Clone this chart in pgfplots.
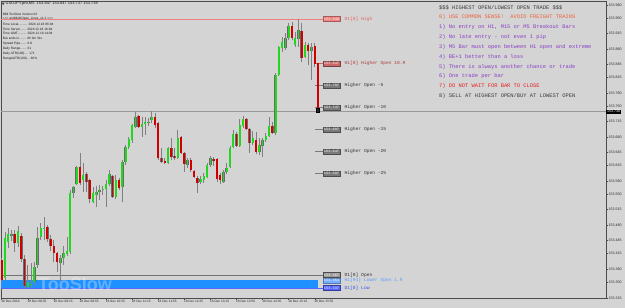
\documentclass[border=0pt]{standalone}
\usepackage{pgfplots}
\pgfplotsset{compat=1.18}
\usepackage{pgfplotstable}
\usepackage{fontspec}
\setmainfont{Liberation Sans}
\newfontfamily\mono{Liberation Mono}
\newcommand\fs[1]{\fontsize{#1}{#1}\selectfont}
\definecolor{bg}{HTML}{D4D4D4}
\definecolor{wick}{HTML}{808080}
\definecolor{edge}{HTML}{6A6A6A}
\definecolor{bullc}{HTML}{22D622}
\definecolor{bearc}{HTML}{D00000}
\definecolor{dhigh}{HTML}{F08080}
\definecolor{dhighT}{HTML}{E86060}
\definecolor{hopen}{HTML}{C86A6A}
\definecolor{hopenT}{HTML}{B03A3A}
\definecolor{lvgray}{HTML}{7A7A7A}
\definecolor{lvgrayT}{HTML}{303030}
\definecolor{dopen}{HTML}{9A9A9A}
\definecolor{lopen}{HTML}{78AEFF}
\definecolor{lopenT}{HTML}{5A9CFF}
\definecolor{dlow}{HTML}{5566FF}
\definecolor{dlowT}{HTML}{3A50F0}
\definecolor{rectblue}{HTML}{1E90FF}
\definecolor{rule0}{HTML}{F0603C}
\definecolor{rulep}{HTML}{8A3CC8}
\definecolor{rule7}{HTML}{E81E1E}
\definecolor{ruled}{HTML}{3A3A3A}

% bullish candles: bar index, open, high, low, close
\pgfplotstableread{
i o h l c
1 153.360 153.464 153.355 153.451
2 153.442 153.473 153.428 153.460
3 153.456 153.469 153.444 153.459
5 153.439 153.478 153.430 153.467
8 153.339 153.389 153.337 153.351
9 153.344 153.394 153.337 153.346
10 153.351 153.396 153.344 153.385
11 153.389 153.476 153.383 153.451
12 153.453 153.485 153.446 153.473
13 153.471 153.498 153.446 153.473
18 153.394 153.412 153.351 153.405
19 153.405 153.433 153.389 153.417
20 153.414 153.453 153.410 153.421
21 153.419 153.560 153.414 153.553
22 153.553 153.569 153.542 153.567
23 153.573 153.614 153.571 153.612
25 153.582 153.621 153.555 153.594
28 153.532 153.567 153.530 153.553
29 153.548 153.569 153.521 153.555
30 153.556 153.571 153.537 153.559
31 153.559 153.569 153.548 153.561
32 153.562 153.582 153.521 153.573
33 153.573 153.605 153.569 153.596
35 153.544 153.594 153.539 153.582
37 153.567 153.628 153.532 153.623
38 153.623 153.662 153.616 153.657
39 153.657 153.680 153.653 153.675
40 153.673 153.710 153.666 153.707
41 153.703 153.737 153.700 153.725
43 153.703 153.725 153.680 153.710
44 153.710 153.725 153.685 153.714
45 153.713 153.723 153.705 153.715
46 153.719 153.739 153.712 153.725
51 153.621 153.657 153.619 153.655
54 153.632 153.696 153.630 153.678
57 153.616 153.632 153.610 153.628
61 153.578 153.592 153.573 153.585
62 153.582 153.598 153.576 153.592
63 153.589 153.621 153.587 153.616
64 153.616 153.637 153.612 153.632
68 153.578 153.605 153.576 153.601
69 153.601 153.621 153.596 153.610
70 153.612 153.660 153.610 153.655
71 153.657 153.696 153.655 153.687
73 153.660 153.721 153.657 153.707
74 153.705 153.728 153.700 153.721
77 153.666 153.694 153.662 153.678
79 153.646 153.678 153.639 153.662
80 153.660 153.678 153.635 153.673
81 153.673 153.689 153.669 153.682
82 153.682 153.725 153.680 153.705
84 153.689 153.825 153.685 153.821
85 153.821 153.887 153.818 153.884
86 153.882 153.907 153.873 153.896
87 153.882 153.916 153.878 153.905
88 153.905 153.939 153.900 153.932
90 153.889 153.918 153.884 153.905
91 153.902 153.948 153.884 153.923
93 153.862 153.896 153.859 153.889
95 153.875 153.893 153.809 153.884
}\bull

% bearish candles
\pgfplotstableread{
i o h l c
0 153.401 153.405 153.351 153.355
4 153.460 153.469 153.419 153.439
6 153.455 153.462 153.396 153.403
7 153.403 153.412 153.337 153.342
14 153.476 153.480 153.442 153.448
15 153.448 153.458 153.421 153.433
16 153.433 153.446 153.396 153.417
17 153.417 153.419 153.374 153.396
24 153.612 153.644 153.571 153.576
26 153.596 153.601 153.555 153.578
27 153.582 153.585 153.530 153.539
34 153.592 153.594 153.542 153.544
36 153.582 153.587 153.560 153.564
42 153.728 153.730 153.700 153.703
47 153.725 153.735 153.700 153.707
48 153.712 153.714 153.628 153.632
49 153.632 153.655 153.621 153.623
50 153.626 153.632 153.619 153.621
52 153.655 153.678 153.628 153.635
53 153.637 153.655 153.628 153.632
55 153.680 153.682 153.641 153.644
56 153.644 153.646 153.601 153.619
58 153.628 153.632 153.601 153.605
59 153.603 153.605 153.587 153.589
60 153.587 153.592 153.553 153.576
65 153.630 153.635 153.614 153.626
66 153.630 153.632 153.578 153.585
67 153.594 153.598 153.573 153.582
72 153.687 153.691 153.657 153.660
75 153.721 153.723 153.696 153.698
76 153.698 153.700 153.644 153.666
78 153.673 153.691 153.641 153.646
83 153.705 153.714 153.687 153.689
89 153.932 153.941 153.900 153.905
92 153.921 153.939 153.850 153.859
94 153.889 153.893 153.843 153.875
96 153.887 153.893 153.839 153.846
97 153.847 153.847 153.737 153.738
}\bear

\newcommand\lvl[5]{%
  \node[anchor=west, fill=#2, draw=#3, line width=0.4bp, text=white,
        font=\mono\fs{3.6bp}, inner sep=0pt, minimum width=17.5bp,
        minimum height=5bp] (b) at (axis cs:98.4,#1) {#1};
  \node[anchor=west, text=#4, font=\mono\fs{4.6bp}, inner sep=0pt]
        at ([xshift=4bp]b.east) {#5};}

\pgfplotsset{
  candle/.style 2 args={draw=none, no markers, forget plot,
    error bars/.cd, y dir=plus, y explicit, error mark=none,
    error bar style={draw=#1, line width=#2, solid}},
}

\begin{document}
\begin{tikzpicture}
\fill[bg] (-1bp,-10bp) rectangle (624bp,298bp);
\begin{axis}[
  at={(0,0)}, anchor=south west,
  scale only axis, width=605bp, height=297bp,
  xmin=-0.215, xmax=185.31, ymin=153.3145, ymax=153.9887,
  axis line style={draw=black!70, line width=0.6bp},
  xtick={0,8,...,96},
  xticklabels={18 Dec 2024,18 Dec 08:35,18 Dec 09:15,18 Dec 09:55,18 Dec 10:35,18 Dec 11:15,18 Dec 11:55,18 Dec 12:35,18 Dec 13:15,18 Dec 13:55,18 Dec 14:35,18 Dec 15:15,18 Dec 15:55},
  xtick pos=bottom, ytick pos=right, yticklabel pos=right,
  tick align=outside, major tick length=2bp,
  tick style={draw=black!70, line width=0.5bp},
  xticklabel style={anchor=north west, font=\fs{3.2bp}, inner sep=0.5bp, xshift=-1bp, text=black!85},
  ytick={153.980,153.950,153.915,153.880,153.845,153.815,153.780,153.750,153.715,153.680,153.645,153.615,153.580,153.550,153.515,153.480,153.445,153.415,153.380,153.350,153.315},
  yticklabel style={anchor=west, font=\fs{3.6bp}, inner sep=0.5bp, text=black!85,
    /pgf/number format/.cd, fixed, fixed zerofill, precision=3, assume math mode=true},
  scaled y ticks=false,
]
% D1 lower band rectangle
\addplot[fill=rectblue, draw=none, no markers] coordinates {(-0.2,153.337) (97,153.337) (97,153.356) (-0.2,153.356)} -- cycle;
% full-width level lines
\addplot[draw=dhigh, line width=0.8bp, no markers] coordinates {(-0.2,153.948) (98.4,153.948)};
\addplot[draw=black!55, line width=0.6bp, no markers] coordinates {(-0.2,153.367) (98.4,153.367)};
\addplot[draw=dlow, line width=0.8bp, no markers] coordinates {(-0.2,153.337) (98.4,153.337)};
% bid line
\addplot[draw=black!40, line width=0.5bp, no markers] coordinates {(-0.2,153.738) (185.3,153.738)};
% short level lines
\addplot[draw=hopen, line width=0.6bp, no markers] coordinates {(96.1,153.847) (98.4,153.847)};
\addplot[draw=lvgray, line width=0.6bp, no markers] coordinates {(96.1,153.797) (98.4,153.797)};
\addplot[draw=lvgray, line width=0.6bp, no markers] coordinates {(96.1,153.747) (98.4,153.747)};
\addplot[draw=lvgray, line width=0.6bp, no markers] coordinates {(96.1,153.697) (98.4,153.697)};
\addplot[draw=lvgray, line width=0.6bp, no markers] coordinates {(96.1,153.647) (98.4,153.647)};
\addplot[draw=lvgray, line width=0.6bp, no markers] coordinates {(96.1,153.597) (98.4,153.597)};
% wicks
\addplot[candle={wick}{0.8bp}] table[x=i, y=l, y error plus expr=\thisrow{h}-\thisrow{l}] {\bull};
\addplot[candle={wick}{0.8bp}] table[x=i, y=l, y error plus expr=\thisrow{h}-\thisrow{l}] {\bear};
% bodies
\addplot[candle={edge}{2.5bp}] table[x=i, y=o, y error plus expr=\thisrow{c}-\thisrow{o}] {\bull};
\addplot[candle={bullc}{1.8bp}] table[x=i, y=o, y error plus expr=\thisrow{c}-\thisrow{o}] {\bull};
\addplot[candle={edge}{2.5bp}] table[x=i, y=c, y error plus expr=\thisrow{o}-\thisrow{c}] {\bear};
\addplot[candle={bearc}{1.8bp}] table[x=i, y=c, y error plus expr=\thisrow{o}-\thisrow{c}] {\bear};
% current bar marker
\addplot[only marks, mark=square*, mark size=1.6bp, mark options={fill=black!85, draw=black}] coordinates {(97,153.741)};
% level boxes and labels
\lvl{153.948}{dhigh}{dhigh!70!black}{dhighT}{D1[0] High}
\lvl{153.847}{hopen}{hopen!60!black}{hopenT}{H1[0] Higher Open 10.9}
\lvl{153.797}{lvgray}{black!70}{lvgrayT}{Higher Open -5}
\lvl{153.747}{lvgray}{black!70}{lvgrayT}{Higher Open -10}
\lvl{153.697}{lvgray}{black!70}{lvgrayT}{Higher Open -15}
\lvl{153.647}{lvgray}{black!70}{lvgrayT}{Higher Open -20}
\lvl{153.597}{lvgray}{black!70}{lvgrayT}{Higher Open -25}
\lvl{153.367}{dopen}{black!70}{lvgrayT}{D1[0] Open}
\lvl{153.354}{lopen}{lopen!70!black}{lopenT}{H1[94] Lower Open 1.9}
\lvl{153.337}{dlow}{dlow!60!black}{dlowT}{D1[0] Low}
\end{axis}
\begin{scope}[shift={(-1bp,298bp)}, x=1bp, y=-1bp]
  % watermark
  \node[font=\bfseries\fs{18bp}, text=white, opacity=0.3] at (75,284) {TooSlow};
  % current price tag
  \node[anchor=west, fill=black, text=white, font=\fs{3.6bp}, inner xsep=0.8bp, inner ysep=0.7bp] at (606,111.7) {153.738};
  % header
  \fill[black!75] (1.8,2.6) -- (4.6,2.6) -- (3.2,5.2) -- cycle;
  \begin{scope}[every node/.style={anchor=west, inner sep=0pt, text=black!90, font=\fs{3.2bp}}]
  \node[font=\fs{4bp}] at (5.5,4) {USDJPY,pro,M5\ \ 153.847 153.847 153.737 153.738};
  \node at (2.7,14.3) {\$\$\$ TooSlow Version 03};
  \node at (2.7,19.1) {=== antiMultiOpen\_Lines\_v1.2 ===};
  \node at (2.7,24.0) {Time Local.......... 2024.12.18 06:04};
  \node at (2.7,28.9) {Time Server....... 2024.12.18 16:04};
  \node at (2.7,33.8) {Time GMT.......... 2024.12.18 14:04};
  \node at (2.7,38.7) {Bar ends in........ 0h 0m 31s};
  \node at (2.7,43.6) {Spread Pips....... 0.8};
  \node at (2.7,48.5) {Daily Range....... 61};
  \node at (2.7,53.4) {Daily ATR(100).... 171};
  \node at (2.7,58.3) {Range/ATR(100)... 36\%};
  \end{scope}
  % rules block
  \begin{scope}[every node/.style={anchor=west, inner sep=0pt, font=\mono\fs{5.4bp}}]
  \node[text=ruled] at (439,7.3) {\$\$\$ HIGHEST OPEN/LOWEST OPEN TRADE \$\$\$};
  \node[text=rule0] at (439,17.2) {0) USE COMMON SENSE!\ \ AVOID FREIGHT TRAINS};
  \node[text=rulep] at (439,27.1) {1) No entry on H1, M15 or M5 Breakout Bars};
  \node[text=rulep] at (439,37.0) {2) No late entry - not even 1 pip};
  \node[text=rulep] at (439,46.9) {3) M5 Bar must open between H1 open and extreme};
  \node[text=rulep] at (439,56.8) {4) BE+1 better than a loss};
  \node[text=rulep] at (439,66.7) {5) There is always another chance or trade};
  \node[text=rulep] at (439,76.6) {6) One trade per bar};
  \node[text=rule7] at (439,86.5) {7) DO NOT WAIT FOR BAR TO CLOSE};
  \node[text=ruled] at (439,96.4) {8) SELL AT HIGHEST OPEN/BUY AT LOWEST OPEN};
  \end{scope}
\end{scope}
\pgfresetboundingbox
\path[use as bounding box] (-1bp,-10bp) rectangle (624bp,298bp);
\end{tikzpicture}
\end{document}
